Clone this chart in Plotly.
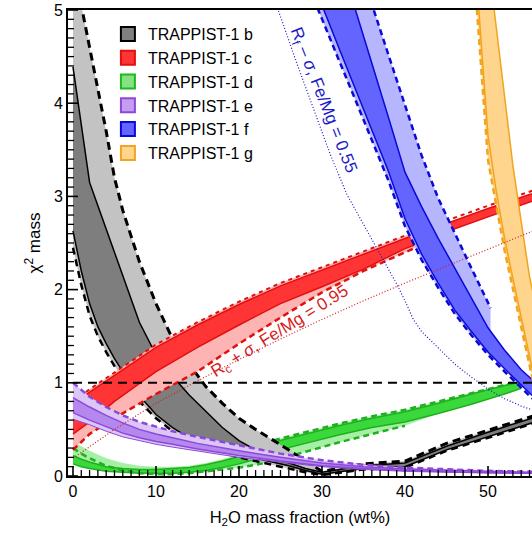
import plotly.graph_objects as go

# ---------------- data ----------------
# TRAPPIST-1 b
b_x       = [0, 1, 2, 3, 4, 5, 6, 8, 10, 12, 14, 16, 18, 20, 22, 24, 26, 28, 30, 35, 40, 45, 50, 55, 56]
b_hi_dash = [5.5, 5.05, 4.6, 4.15, 3.7, 3.2, 2.85, 2.3, 1.85, 1.47, 1.2, 0.96, 0.78, 0.62, 0.5, 0.39, 0.28, 0.16, 0.05, 0.13, 0.16, 0.35, 0.49, 0.63, 0.66]
b_hi_sol  = [4.39, 3.75, 3.15, 2.9, 2.65, 2.4, 2.15, 1.65, 1.3, 1.07, 0.87, 0.69, 0.52, 0.38, 0.28, 0.2, 0.14, 0.08, 0.04, 0.11, 0.14, 0.32, 0.47, 0.61, 0.64]
b_lo_sol  = [2.63, 2.2, 1.85, 1.6, 1.42, 1.26, 1.12, 0.86, 0.66, 0.52, 0.41, 0.34, 0.28, 0.23, 0.19, 0.15, 0.11, 0.06, 0.02, 0.08, 0.1, 0.28, 0.42, 0.56, 0.59]
b_lo_dash = [2.45, 2.05, 1.72, 1.5, 1.33, 1.18, 1.05, 0.8, 0.62, 0.48, 0.38, 0.3, 0.25, 0.2, 0.16, 0.12, 0.08, 0.04, 0.01, 0.07, 0.09, 0.27, 0.41, 0.55, 0.58]

# TRAPPIST-1 c
c_x       = [0, 2, 5, 10, 15, 20, 25, 30, 35, 40, 41.5, 45, 50, 55, 56]
c_hi_sol  = [0.77, 0.9, 1.08, 1.38, 1.62, 1.84, 2.04, 2.21, 2.38, 2.55, 2.6, 2.71, 2.87, 3.02, 3.05]
c_hi_dash = [0.8, 0.93, 1.11, 1.41, 1.65, 1.87, 2.07, 2.24, 2.41, 2.58, 2.63, 2.74, 2.9, 3.05, 3.08]
c_lo_sol  = [0.45, 0.58, 0.8, 1.12, 1.38, 1.62, 1.85, 2.03, 2.22, 2.44, 2.49, 2.62, 2.78, 2.94, 2.97]
c_ld_x    = [0, 2, 5, 10, 15, 20, 25, 30, 35, 40, 41.5]
c_lo_dash = [0.28, 0.45, 0.62, 0.88, 1.12, 1.42, 1.7, 1.97, 2.2, 2.4, 2.46]

# TRAPPIST-1 d
d_x        = [0, 1, 2, 4, 6, 8, 10, 12, 14, 16, 18, 20, 22, 24, 28, 32, 36, 40, 44, 48, 52, 54]
d_light_hi = [0.38, 0.32, 0.27, 0.19, 0.14, 0.11, 0.1, 0.1, 0.11, 0.14, 0.18, 0.23, 0.3, 0.38, 0.47, 0.56, 0.64, 0.71, 0.8, 0.89, 0.98, 1.02]
d_hi_sol   = [0.22, 0.18, 0.15, 0.1, 0.08, 0.07, 0.07, 0.08, 0.09, 0.12, 0.16, 0.21, 0.28, 0.36, 0.45, 0.54, 0.62, 0.69, 0.78, 0.88, 0.97, 1.01]
d_lo_sol   = [0.13, 0.1, 0.08, 0.05, 0.04, 0.03, 0.03, 0.03, 0.04, 0.06, 0.09, 0.13, 0.18, 0.26, 0.35, 0.44, 0.52, 0.58, 0.67, 0.77, 0.88, 0.94]
d_light_lo = [0.13, 0.1, 0.08, 0.05, 0.04, 0.03, 0.02, 0.02, 0.03, 0.05, 0.07, 0.09, 0.12, 0.16, 0.26, 0.36, 0.45, 0.54, 0.67, 0.77, 0.88, 0.94]
d_ld_x     = [0, 1, 2, 4, 6, 8, 10, 12, 14, 16, 18, 20, 22, 24, 28, 32, 36, 40]
d_lo_dash  = [0.3, 0.24, 0.19, 0.11, 0.06, 0.03, 0.02, 0.02, 0.03, 0.05, 0.07, 0.09, 0.12, 0.16, 0.26, 0.36, 0.45, 0.54]
d_hd_x     = [22, 24, 28, 32, 36, 40, 44, 48, 52, 54]
d_hi_dash  = [0.3, 0.38, 0.47, 0.56, 0.64, 0.71, 0.8, 0.89, 0.98, 1.02]

# TRAPPIST-1 e
e_x       = [0, 1, 2, 4, 6, 8, 10, 12, 15, 20, 25, 30, 35, 40, 45, 50, 55, 56]
e_hi_dash = [1.0, 0.92, 0.85, 0.74, 0.65, 0.58, 0.53, 0.48, 0.42, 0.33, 0.24, 0.17, 0.12, 0.09, 0.07, 0.055, 0.045, 0.045]
e_hi_sol  = [0.84, 0.79, 0.74, 0.65, 0.57, 0.5, 0.45, 0.41, 0.35, 0.27, 0.2, 0.14, 0.1, 0.075, 0.06, 0.05, 0.04, 0.04]
e_lo_sol  = [0.68, 0.64, 0.6, 0.53, 0.46, 0.41, 0.37, 0.34, 0.29, 0.22, 0.16, 0.11, 0.08, 0.06, 0.045, 0.035, 0.03, 0.03]
e_lo_dash = [0.61, 0.58, 0.55, 0.48, 0.42, 0.38, 0.34, 0.31, 0.27, 0.2, 0.15, 0.1, 0.07, 0.05, 0.04, 0.03, 0.025, 0.025]

# TRAPPIST-1 f
f_x       = [29, 30, 32, 34, 36, 38, 40, 42, 44, 46, 48, 50, 52, 54, 55, 56]
f_lo_dash = [5.12, 4.91, 4.47, 4.04, 3.6, 3.17, 2.68, 2.32, 2.02, 1.74, 1.51, 1.3, 1.12, 0.94, 0.86, 0.78]
f_lo_sol  = [5.25, 5.05, 4.6, 4.16, 3.72, 3.27, 2.76, 2.38, 2.07, 1.78, 1.55, 1.33, 1.15, 0.97, 0.89, 0.81]
f_hs_x    = [33, 34, 36, 38, 40, 42, 44, 46, 48, 50, 52, 54, 55, 56]
f_hi_sol  = [5.3, 5.01, 4.45, 3.85, 3.26, 2.89, 2.55, 2.23, 1.91, 1.59, 1.35, 1.14, 1.06, 0.98]
f_hd_x    = [35.5, 36.4, 38, 40, 42, 44, 46, 48, 50, 50.3]
f_hi_dash = [5.2, 4.95, 4.52, 3.98, 3.44, 2.98, 2.6, 2.23, 1.86, 1.8]

# TRAPPIST-1 g
g_x       = [47.5, 48, 48.7, 49.5, 50, 51, 52, 53, 54, 55, 56]
g_lo_dash = [6.4, 5.8, 4.95, 4.0, 3.39, 2.9, 2.42, 2.01, 1.6, 1.19, 0.78]
g_lo_sol  = [6.7, 6.1, 5.25, 4.3, 3.65, 3.05, 2.55, 2.12, 1.7, 1.28, 0.87]
g_hs_x    = [50, 50.8, 51, 52, 53, 54, 55, 56]
g_hi_sol  = [5.55, 4.95, 4.8, 4.06, 3.33, 2.73, 2.14, 1.72]

# dotted model curves
rc_x = [0, 5, 10, 15, 20, 25, 30, 35, 40, 45, 50, 55, 56]
rc_y = [0.19, 0.5, 0.78, 1.02, 1.25, 1.47, 1.68, 1.88, 2.07, 2.25, 2.43, 2.61, 2.65]
rf_x = [24.5, 25, 27, 29, 31, 33, 35, 37, 39, 40, 41, 42, 44, 46, 48, 49, 50, 52, 54, 56]
rf_y = [5.05, 4.93, 4.42, 3.93, 3.45, 3.02, 2.7, 2.38, 2.06, 1.88, 1.68, 1.55, 1.38, 1.2, 1.06, 1.0, 0.93, 0.83, 0.75, 0.69]

# chi^2 = 1 reference line
ref_x = [0, 56]
ref_y = [1, 1]

planets = ["TRAPPIST-1 b", "TRAPPIST-1 c", "TRAPPIST-1 d", "TRAPPIST-1 e", "TRAPPIST-1 f", "TRAPPIST-1 g"]
legend_fill = ["#808080", "#ff3434", "#84e284", "#c49cf0", "#6464ff", "#ffd48c"]
legend_edge = ["#000000", "#e01010", "#22b522", "#8c48d8", "#0a0ad8", "#f2a41e"]

# axes
X_RANGE = [-0.6, 55.3]
Y_RANGE = [0, 5]
x_major = [0, 10, 20, 30, 40, 50]
y_major = [0, 1, 2, 3, 4, 5]

FONT = "Liberation Sans, Arial, Helvetica, sans-serif"
W, H = 532, 538
M = dict(l=68, r=0, t=10, b=62)

fig = go.Figure()


def band(x_lo, y_lo, x_hi, y_hi, color):
    fig.add_trace(go.Scatter(
        x=list(x_lo) + list(x_hi)[::-1], y=list(y_lo) + list(y_hi)[::-1],
        mode="lines", fill="toself", fillcolor=color, line=dict(width=0),
        hoverinfo="skip", showlegend=False))


def line(x, y, color, width, dash="solid"):
    fig.add_trace(go.Scatter(x=x, y=y, mode="lines",
                             line=dict(color=color, width=width, dash=dash),
                             hoverinfo="skip", showlegend=False))


# d (green)
band(d_x, d_light_lo, d_x, d_light_hi, "#a6f0a6")
band(d_x, d_lo_sol, d_x, d_hi_sol, "#3bd83b")
line(d_x, d_lo_sol, "#1fb01f", 1.5)
line(d_x, d_hi_sol, "#1fb01f", 1.5)
line(d_ld_x, d_lo_dash, "#1fb01f", 2.5, "6px,4px")
line(d_hd_x, d_hi_dash, "#1fb01f", 2.5, "6px,4px")

# b (gray)
band(b_x, b_lo_dash, b_x, b_hi_dash, "#c3c3c3")
band(b_x, b_lo_sol, b_x, b_hi_sol, "#7e7e7e")
line(b_x, b_lo_sol, "#000000", 1.5)
line(b_x, b_hi_sol, "#000000", 1.5)
line(b_x, b_lo_dash, "#000000", 2.5, "7px,5px")
line(b_x, b_hi_dash, "#000000", 3, "8px,5px")

# c (red)
band(c_ld_x, c_lo_dash, c_x[:len(c_ld_x)], c_hi_dash[:len(c_ld_x)], "#ffb4b4")
band(c_x, c_lo_sol, c_x, c_hi_sol, "#ff3434")
line(c_x, c_lo_sol, "#e01010", 1.5)
line(c_x, c_hi_sol, "#e01010", 1.5)
line(c_ld_x, c_lo_dash, "#e01010", 2.5, "6px,4px")
line(c_x, c_hi_dash, "#e01010", 2.0, "4px,4px")

# e (purple)
band(e_x, e_lo_dash, e_x, e_hi_dash, "#dcc6f8")
band(e_x, e_lo_sol, e_x, e_hi_sol, "#b488ec")
line(e_x, e_lo_sol, "#8c48d8", 1.5)
line(e_x, e_hi_sol, "#8c48d8", 1.5)
line(e_x, e_lo_dash, "#8c48d8", 1.0)
line(e_x, e_hi_dash, "#8c48d8", 2.5, "6px,4px")

# f (blue)
band(f_x[:12] + [50.3], f_lo_dash[:12] + [1.28], f_hd_x, f_hi_dash, "#b6b6ff")
band(f_x, f_lo_sol, f_hs_x, f_hi_sol, "#6464ff")
line(f_x, f_lo_sol, "#0a0ad8", 1.5)
line(f_hs_x, f_hi_sol, "#0a0ad8", 1.5)
line(f_x, f_lo_dash, "#0a0ad8", 2.5, "6px,4px")
line(f_hd_x, f_hi_dash, "#0a0ad8", 2.5, "6px,4px")

# g (orange)
band(g_x, g_lo_dash, g_hs_x, g_hi_sol, "#ffd48c")
line(g_x, g_lo_sol, "#f2a41e", 1.5)
line(g_hs_x, g_hi_sol, "#f2a41e", 1.5)
line(g_x, g_lo_dash, "#f2a41e", 2.5, "6px,4px")

# dotted model lines and chi^2 = 1
line(rc_x, rc_y, "#d41c1c", 1.2, "1px,2px")
line(rf_x, rf_y, "#1a1ac8", 1.2, "1px,2px")
line(ref_x, ref_y, "#000000", 2, "9px,6px")

# inward tick marks (major + minor) as shapes on top of the bands
px_per_x = (W - M["l"] - M["r"]) / (X_RANGE[1] - X_RANGE[0])
px_per_y = (H - M["t"] - M["b"]) / (Y_RANGE[1] - Y_RANGE[0])
TICK_COLOR = "black"
for k in range(0, 56):
    ln = 10 if k % 10 == 0 else 6
    fig.add_shape(type="line", xref="x", yref="y", layer="above",
                  x0=k, x1=k, y0=Y_RANGE[0], y1=Y_RANGE[0] + ln / px_per_y,
                  line=dict(color=TICK_COLOR, width=1.6 if k % 10 == 0 else 1.3))
for k in range(0, 51):
    ln = 10 if k % 10 == 0 else 6
    fig.add_shape(type="line", xref="x", yref="y", layer="above",
                  x0=X_RANGE[0], x1=X_RANGE[0] + ln / px_per_x, y0=k / 10, y1=k / 10,
                  line=dict(color=TICK_COLOR, width=1.6 if k % 10 == 0 else 1.3))

# legend entries
for name, fc, ec in zip(planets, legend_fill, legend_edge):
    fig.add_trace(go.Scatter(x=[None], y=[None], mode="markers", name=name,
                             marker=dict(symbol="square", size=14, color=fc,
                                         line=dict(color=ec, width=2))))

fig.add_annotation(x=25.0, y=1.55, text="R<sub>c</sub> + <i>σ</i>, Fe/Mg = 0.95",
                   textangle=-32, showarrow=False,
                   font=dict(family=FONT, size=17, color="#d41c1c"))
fig.add_annotation(x=30.0, y=4.03, text="R<sub>f</sub> – <i>σ</i>, Fe/Mg = 0.55",
                   textangle=68.5, showarrow=False,
                   font=dict(family=FONT, size=17, color="#1a1ac8"))

fig.update_layout(
    width=W, height=H,
    margin=dict(**M, autoexpand=False),
    paper_bgcolor="white", plot_bgcolor="white",
    font=dict(family=FONT, size=16, color="black"),
    showlegend=True,
    legend=dict(x=0.086, y=0.985, xanchor="left", yanchor="top",
                bgcolor="rgba(0,0,0,0)", font=dict(family=FONT, size=16),
                tracegroupgap=0),
    xaxis=dict(range=X_RANGE, automargin=False, showline=True, linewidth=2, linecolor="black",
               mirror=True, ticks="", tickmode="array", tickvals=x_major,
               showgrid=False, zeroline=False, tickfont=dict(size=16),
               title=dict(text="H<sub>2</sub>O mass fraction (wt%)", font=dict(size=16.5), standoff=12)),
    yaxis=dict(range=Y_RANGE, automargin=False, showline=True, linewidth=2, linecolor="black",
               mirror=False, ticks="", tickmode="array", tickvals=y_major,
               showgrid=False, zeroline=False, tickfont=dict(size=16),
               title=dict(text="χ<sup>2</sup> mass", font=dict(size=17), standoff=9)),
)

fig.write_html("out.html", config={"displayModeBar": False},
               post_script="document.body.style.margin='0px';document.body.style.padding='0px';")
